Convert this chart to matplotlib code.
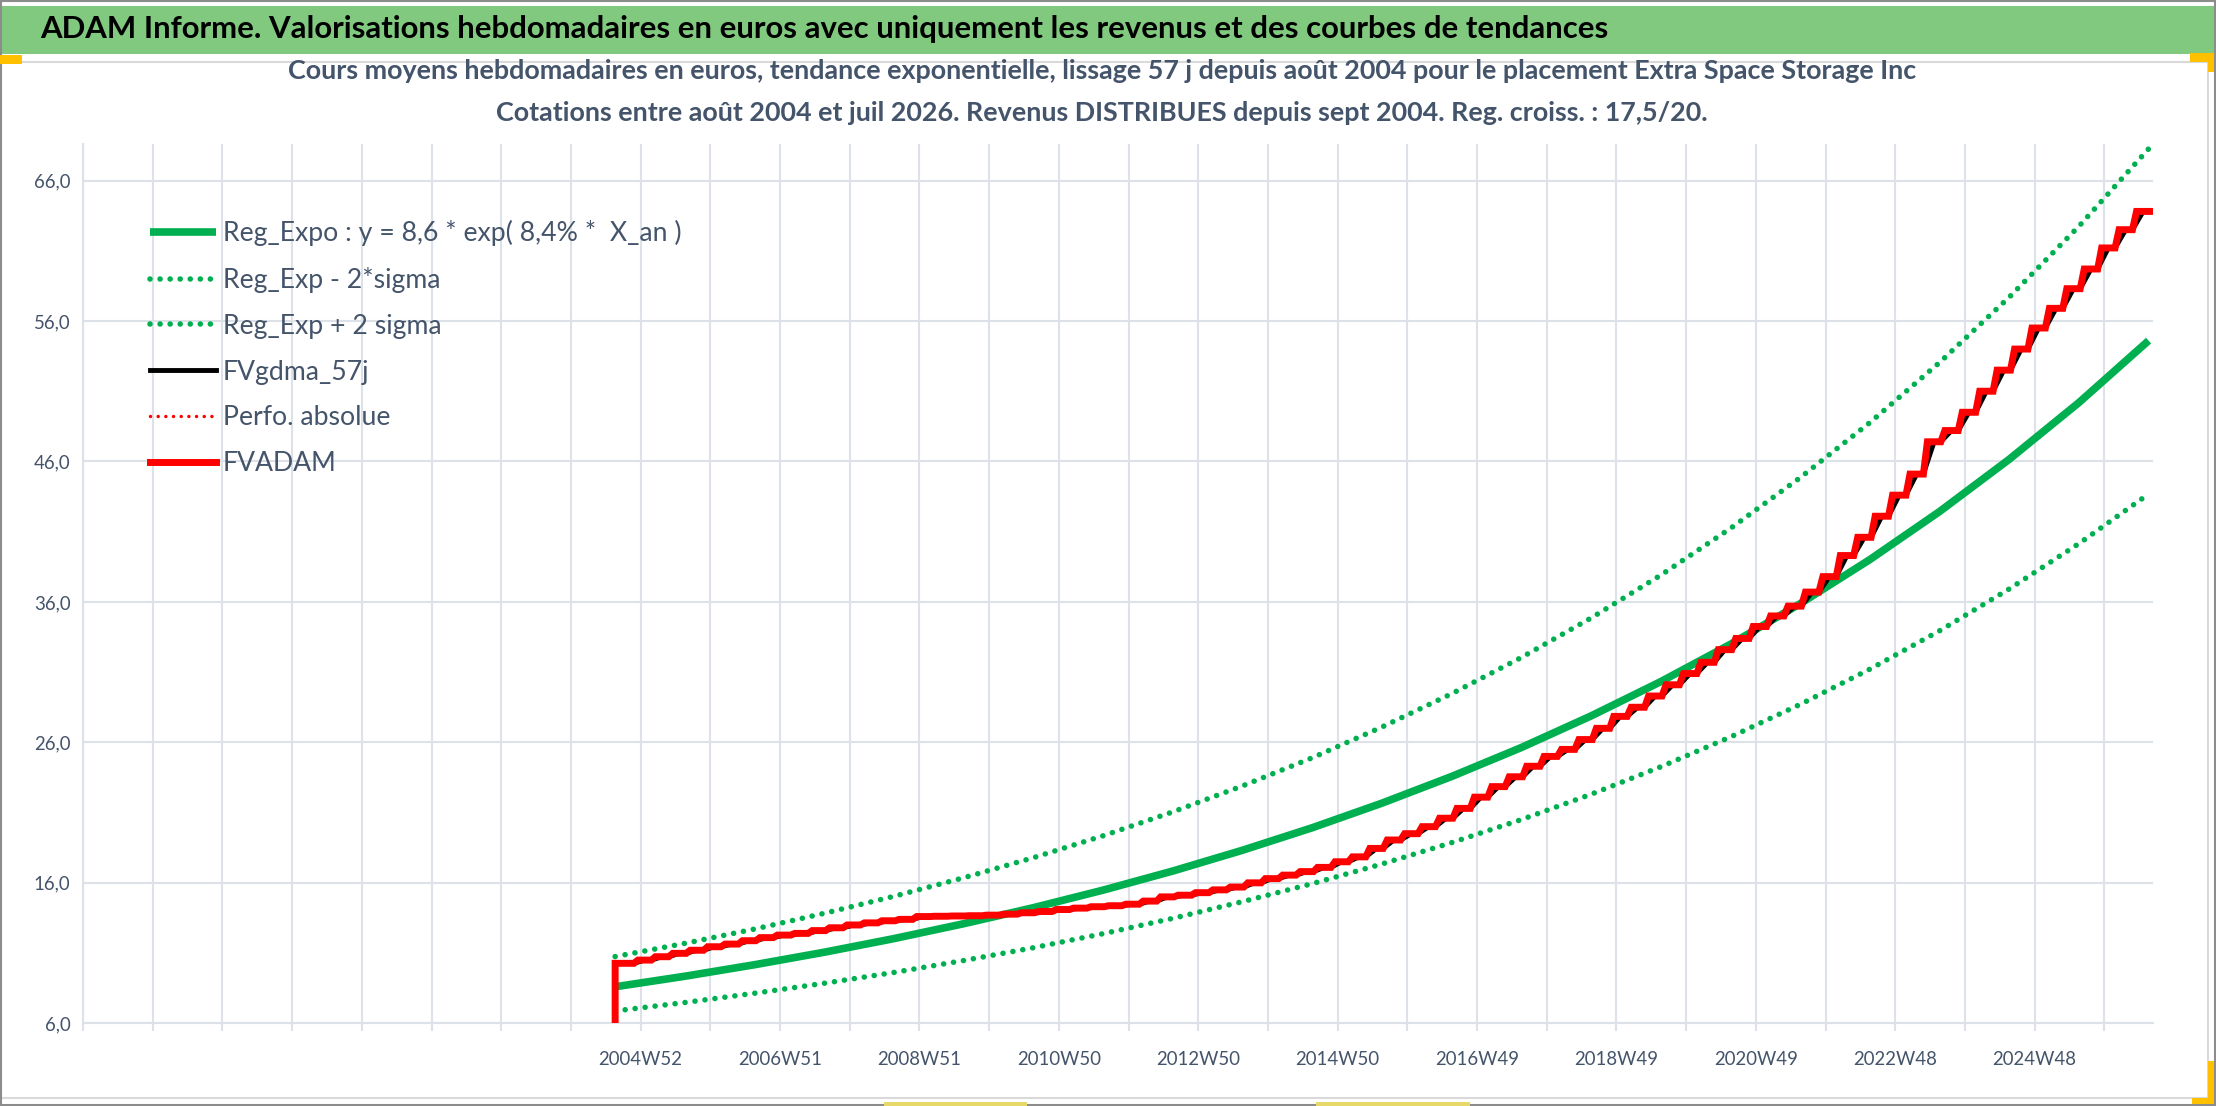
#!/usr/bin/env python

import matplotlib
matplotlib.use('Agg')
import matplotlib.pyplot as plt
from matplotlib.patches import Rectangle

W, H = 2216, 1106

TITLE = ("ADAM Informe. Valorisations hebdomadaires en euros avec uniquement "
         "les revenus et des courbes de tendances")
SUBTITLE_1 = ("Cours moyens hebdomadaires en euros, tendance exponentielle, lissage 57 j "
              "depuis août 2004 pour le placement Extra Space Storage Inc")
SUBTITLE_2 = ("Cotations entre août 2004 et juil 2026. Revenus DISTRIBUES depuis sept 2004. "
              "Reg. croiss. : 17,5/20.")
LEGEND_LABELS = ['Reg_Expo : y = 8,6 * exp( 8,4% *  X_an )', 'Reg_Exp - 2*sigma',
                 'Reg_Exp + 2 sigma', 'FVgdma_57j', 'Perfo. absolue', 'FVADAM']

# category axis: one category per week, 1545 weeks, first quote at week 397 (2004W33)
N_WEEKS = 1545
START_WEEK = 397
FIRST_STEP_WEEK = 414
WEEKS_PER_QUARTER = 13
WEEKS_PER_YEAR = 52
FIRST_LABEL_WEEK = 416

X_LABELS = ['2004W52', '2006W51', '2008W51', '2010W50', '2012W50', '2014W50',
            '2016W49', '2018W49', '2020W49', '2022W48', '2024W48']
Y_TICKS = [6, 16, 26, 36, 46, 56, 66]
Y_MIN, Y_MAX = 6, 68.6

# yearly points of the trend curves (year 0 = aout 2004)
REG_EXPO = [8.6, 9.35, 10.17, 11.06, 12.03, 13.09, 14.23, 15.48, 16.84, 18.32, 19.92,
            21.67, 23.57, 25.63, 27.88, 30.32, 32.98, 35.87, 39.01, 42.43, 46.15,
            50.19, 54.6]
REG_MINUS = [6.88, 7.48, 8.14, 8.85, 9.62, 10.47, 11.38, 12.38, 13.47, 14.66, 15.94,
             17.34, 18.86, 20.50, 22.30, 24.26, 26.38, 28.70, 31.21, 33.94, 36.92,
             40.15, 43.68]
REG_PLUS = [10.75, 11.69, 12.71, 13.83, 15.04, 16.36, 17.79, 19.35, 21.05, 22.90, 24.90,
            27.09, 29.46, 32.04, 34.85, 37.90, 41.23, 44.84, 48.76, 53.04, 57.69,
            62.74, 68.25]

# quarterly levels of FVADAM (one step per distribution)
FV_BASE = 0.0
FVADAM = [10.27, 10.5, 10.74, 10.98, 11.2, 11.45, 11.64, 11.88, 12.1, 12.28, 12.4,
          12.6, 12.8, 13.0, 13.15, 13.3, 13.4, 13.6, 13.62, 13.64, 13.66,
          13.7, 13.77, 13.87, 13.96, 14.1, 14.2, 14.3, 14.37, 14.48, 14.7,
          15.0, 15.12, 15.3, 15.5, 15.7, 16.0, 16.3, 16.55, 16.8, 17.1, 17.5,
          17.85, 18.45, 19.05, 19.5, 20.0, 20.6, 21.3, 22.1, 22.85, 23.55, 24.3,
          25.0, 25.5, 26.2, 27.0, 27.85,
          28.5, 29.3, 30.1, 30.9, 31.7, 32.6, 33.4,
          34.25, 35.0, 35.7, 36.7, 37.8, 39.3, 40.6, 42.1, 43.6, 45.1, 47.4, 48.2,
          49.5, 51.0, 52.5, 54.0, 55.5, 56.9, 58.3, 59.7, 61.2, 62.5, 63.8]

GREEN = '#00B050'
RED = '#FF0000'
GRID = '#DDE2E9'
TEXT = '#44546A'
FONTS = ['Lato', 'DejaVu Sans']

PLOT_LEFT, PLOT_RIGHT, PLOT_TOP, PLOT_BOTTOM = 83, 2153, 144, 1023.3


def fx(x):
    return x / W


def fy(y):
    return 1 - y / H


def size_for_width(fig, s, target, weight='normal'):
    # font size that gives the text the pixel width seen in the reference
    t = fig.text(0, 0, s, fontsize=20, fontweight=weight)
    w = t.get_window_extent(fig.canvas.get_renderer()).width
    t.remove()
    return 20 * target / w


def step_path(values, rise):
    xs = [START_WEEK]
    ys = [values[0]]
    for q in range(1, len(values)):
        w = FIRST_STEP_WEEK + WEEKS_PER_QUARTER * (q - 1)
        xs += [w - 3, w - 3 + rise]
        ys += [values[q - 1], values[q]]
    xs.append(N_WEEKS - 1)
    ys.append(values[-1])
    return xs, ys


def main() -> None:
    plt.rcParams['font.family'] = FONTS

    fig = plt.figure(figsize=(W / 100, H / 100), dpi=100)

    # frames, title band, selection handles
    fig.patches.append(Rectangle((fx(1), fy(1098)), fx(2207), fy(62) - fy(1098),
                                 transform=fig.transFigure, facecolor='white',
                                 edgecolor='#D9D9D9', lw=1.5, zorder=-2))
    fig.patches.append(Rectangle((0, fy(54)), 1, fy(6) - fy(54), transform=fig.transFigure,
                                 facecolor='#80C97F', edgecolor='none', zorder=-2))
    fig.patches.append(Rectangle((0.0005, 0.001), 0.999, 0.998, transform=fig.transFigure,
                                 facecolor='none', edgecolor='#8C8C8C', lw=1.5, zorder=5))
    for x0, y0, w0, h0, c in [(0, 55, 22, 9, '#FFC000'), (2190, 53, 24, 9, '#FFC000'),
                              (2208, 53, 6, 19, '#FFC000'), (2208, 1061, 6, 40, '#FFC000'),
                              (2192, 1098, 22, 6, '#FFC000'), (884, 1102, 143, 4, '#E6D96A'),
                              (1316, 1102, 154, 4, '#E6D96A')]:
        fig.patches.append(Rectangle((fx(x0), fy(y0 + h0)), fx(w0), h0 / H,
                                     transform=fig.transFigure, facecolor=c,
                                     edgecolor='none', zorder=6))

    fig.text(fx(40), fy(29), TITLE, fontsize=size_for_width(fig, TITLE, 1568, 'bold'),
             fontweight='bold', color='black', ha='left', va='center')

    sub_size = size_for_width(fig, SUBTITLE_1, 1629, 'bold')
    fig.text(fx(1102), fy(71), SUBTITLE_1, fontsize=sub_size, fontweight='bold',
             color=TEXT, ha='center', va='center')
    fig.text(fx(1102), fy(113), SUBTITLE_2, fontsize=sub_size, fontweight='bold',
             color=TEXT, ha='center', va='center')

    ax_h = PLOT_BOTTOM - PLOT_TOP
    ax = fig.add_axes([fx(PLOT_LEFT), fy(PLOT_BOTTOM), fx(PLOT_RIGHT - PLOT_LEFT), ax_h / H])
    ax.set_xlim(0, N_WEEKS - 0.7)
    ax.set_ylim(Y_MIN, Y_MAX)

    years = [START_WEEK + WEEKS_PER_YEAR * i for i in range(len(REG_EXPO))]
    l_reg, = ax.plot(years, REG_EXPO, color=GREEN, lw=5.5, solid_capstyle='butt', zorder=3)
    l_minus, = ax.plot(years, REG_MINUS, color=GREEN, lw=4, linestyle=(0, (0.01, 1.8)),
                       dash_capstyle='round', zorder=3)
    l_plus, = ax.plot(years, REG_PLUS, color=GREEN, lw=4, linestyle=(0, (0.01, 1.8)),
                      dash_capstyle='round', zorder=3)

    bx, by = step_path(FVADAM, 8)
    l_gdma, = ax.plot(bx, by, color='black', lw=3.5, zorder=4)

    rx, ry = step_path(FVADAM, 3)
    rx = [START_WEEK] + rx
    ry = [FV_BASE] + ry
    l_perf, = ax.plot(rx, ry, color=RED, lw=2.5, linestyle=(0, (0.01, 2.2)),
                      dash_capstyle='round', zorder=4)
    l_fv, = ax.plot(rx, ry, color=RED, lw=5, solid_joinstyle='miter', zorder=5)

    # axes styling
    for side in ['top', 'right']:
        ax.spines[side].set_visible(False)
    for side in ['left', 'bottom']:
        ax.spines[side].set_color(GRID)
        ax.spines[side].set_linewidth(1.5)
    ax.grid(True, color=GRID, lw=1.5, zorder=0)
    ax.set_axisbelow(True)

    xt = list(range(0, N_WEEKS, WEEKS_PER_YEAR))
    labels = []
    for w in xt:
        k = (w - FIRST_LABEL_WEEK) // (2 * WEEKS_PER_YEAR)
        if w >= FIRST_LABEL_WEEK and (w - FIRST_LABEL_WEEK) % (2 * WEEKS_PER_YEAR) == 0 \
                and k < len(X_LABELS):
            labels.append(X_LABELS[k])
        else:
            labels.append('')
    tick_size = size_for_width(fig, '2004W52', 84)
    ax.set_xticks(xt)
    ax.set_xticklabels(labels)
    ax.set_yticks(Y_TICKS)
    ax.set_yticklabels([f"{v:.1f}".replace('.', ',') for v in Y_TICKS])
    ax.tick_params(axis='x', length=6, width=1.5, color=GRID, pad=14,
                   labelsize=tick_size, labelcolor=TEXT)
    ax.tick_params(axis='y', length=0, pad=9, labelsize=tick_size, labelcolor=TEXT)

    leg_size = size_for_width(fig, LEGEND_LABELS[0], 459)
    leg = ax.legend([l_reg, l_minus, l_plus, l_gdma, l_perf, l_fv], LEGEND_LABELS,
                    loc='upper left',
                    bbox_to_anchor=((150 - PLOT_LEFT) / (PLOT_RIGHT - PLOT_LEFT),
                                    (PLOT_BOTTOM - 220) / ax_h),
                    frameon=False, fontsize=leg_size, handlelength=66 / (leg_size * 1.389),
                    handletextpad=0.25, labelspacing=0.78, borderpad=0, borderaxespad=0)
    for t in leg.get_texts():
        t.set_color(TEXT)

    fig.savefig('out.png', dpi=100)


if __name__ == '__main__':
    main()
